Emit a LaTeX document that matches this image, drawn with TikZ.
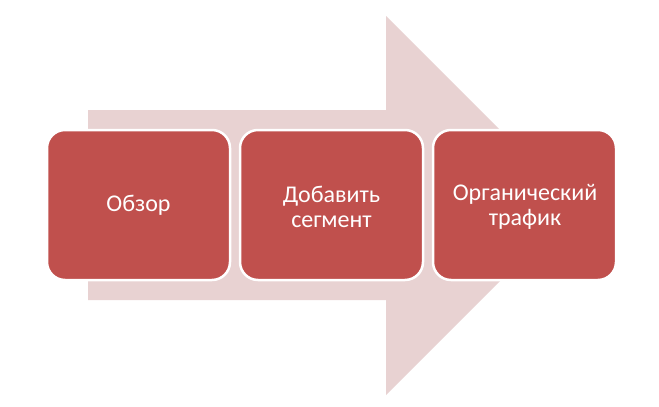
\documentclass[tikz,border=0pt]{standalone}
\usepackage{fontspec}
\setmainfont{Carlito}
\begin{document}
\begin{tikzpicture}[x=1pt,y=-1pt,
  stepbox/.style={fill=boxred, draw=white, line width=2.5pt, rounded corners=18pt},
  steplabel/.style={text=white, align=center, font=\fontsize{24}{25.5}\selectfont}]
\definecolor{boxred}{RGB}{192,80,77}
\definecolor{arrowpink}{RGB}{232,210,210}
\useasboundingbox (0,0) rectangle (659,407);
\fill[white] (0,0) rectangle (659,407);
% big arrow
\fill[arrowpink] (88,110) -- (386,110) -- (386,16) -- (575.5,205.5) -- (386,395) -- (386,300) -- (88,300) -- cycle;
% boxes
\draw[stepbox] (47,130) rectangle (230,280);
\draw[stepbox] (240,130) rectangle (423,280);
\draw[stepbox] (433,130) rectangle (616,280);
\node[steplabel] (s1) at (138.5,205) {Обзор};
\node[steplabel] (s2) at (331.5,207) {Добавить\\сегмент};
\node[steplabel] (s3) at (525,207) {Органический\\трафик};
\end{tikzpicture}
\end{document}
